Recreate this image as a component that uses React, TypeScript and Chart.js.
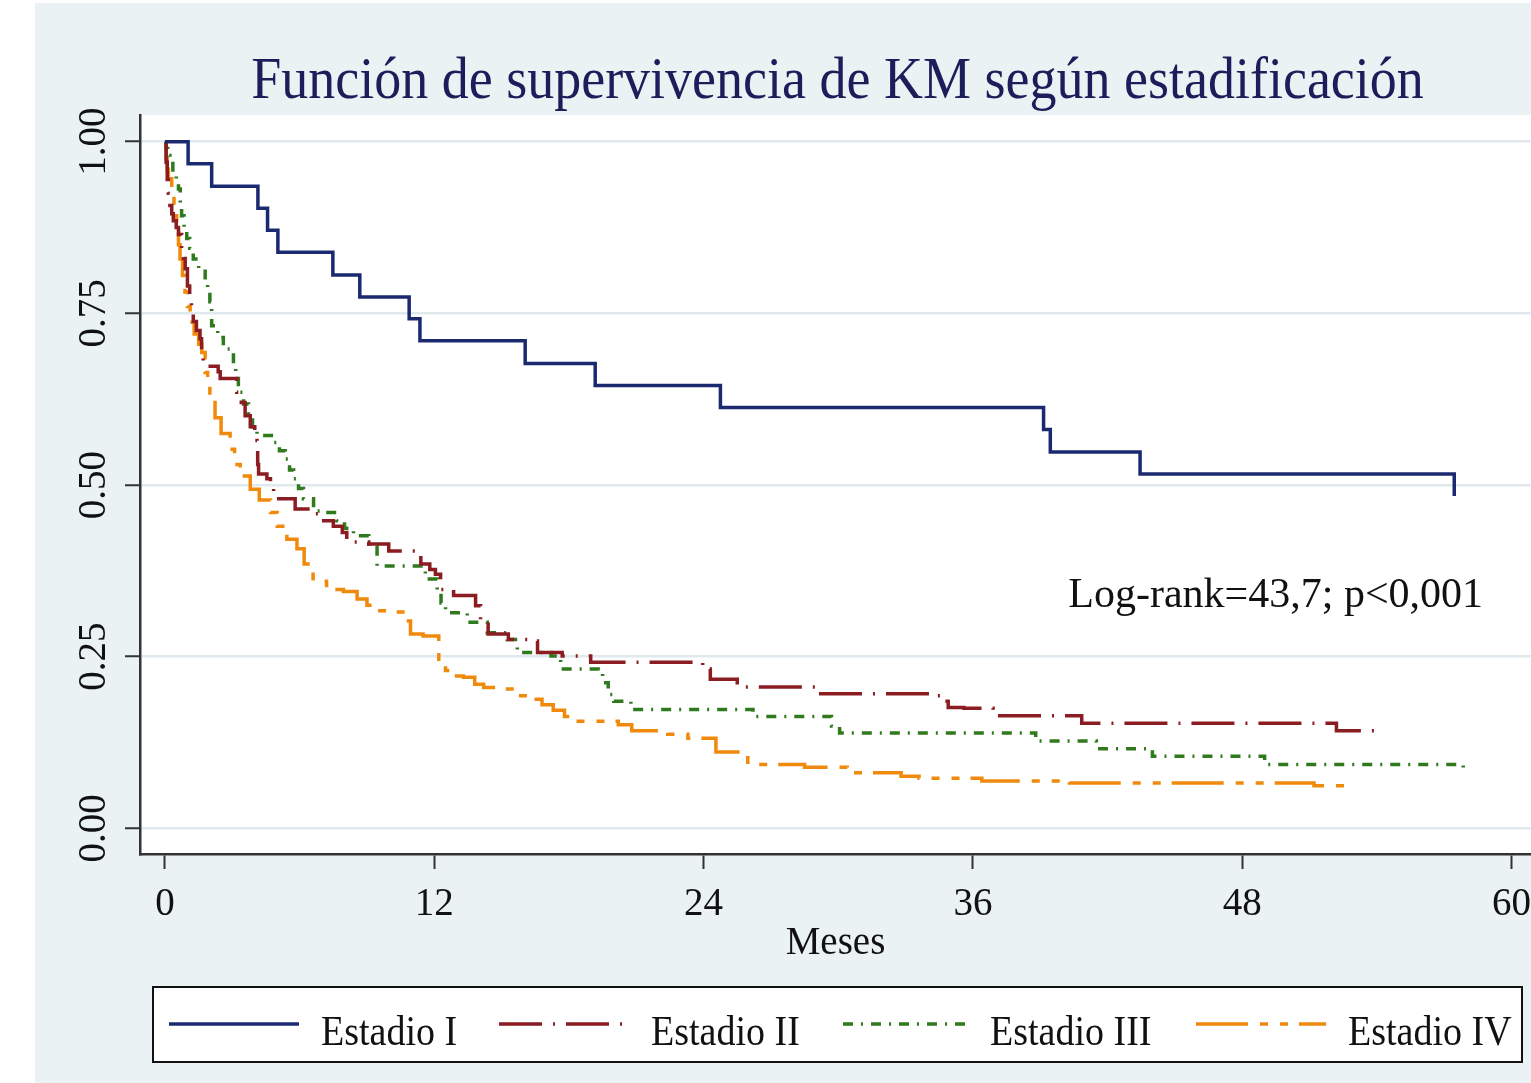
import { useEffect, useRef } from "react";
import { Chart, registerables } from "chart.js";

Chart.register(...registerables);

const SERIF = '"Liberation Serif", "Times New Roman", serif';

const chartTitle = "Función de supervivencia de KM según estadificación";
const xAxisTitle = "Meses";
const annotationText = "Log-rank=43,7; p<0,001";

const xTickValues = [0, 12, 24, 36, 48, 60];
const xTickLabels = ["0", "12", "24", "36", "48", "60"];
const yTickValues = [0, 0.25, 0.5, 0.75, 1];
const yTickLabels = ["0.00", "0.25", "0.50", "0.75", "1.00"];

const seriesNames = ["Estadio I", "Estadio II", "Estadio III", "Estadio IV"];

const stage1Months = [0, 1.03, 2.08, 4.14, 4.57, 5.03, 7.48, 8.68, 10.88, 11.36, 16.05, 19.17, 24.75, 39.15, 39.45, 43.45, 57.45];
const stage1Survival = [1, 0.968, 0.935, 0.903, 0.871, 0.839, 0.806, 0.774, 0.742, 0.71, 0.677, 0.645, 0.613, 0.581, 0.548, 0.516, 0.484];

const stage2Months = [0, 0.05, 0.1, 0.15, 0.22, 0.3, 0.37, 0.5, 0.6, 0.74, 0.82, 0.9, 1.0, 1.1, 1.18, 1.26, 1.4, 1.56, 1.63, 1.7, 2.37, 2.46, 3.2, 3.4, 3.57, 3.8, 4.0, 4.1, 4.13, 4.17, 4.54, 4.7, 4.84, 5.8, 6.47, 7.07, 7.5, 7.9, 8.1, 9.08, 9.97, 11.2, 11.4, 11.8, 12.05, 12.28, 12.86, 13.84, 14.06, 14.4, 15.3, 16.3, 16.6, 17.7, 18.97, 23.96, 24.3, 25.5, 29.1, 34.4, 34.6, 34.9, 35.6, 36.9, 40.85, 52.2, 54.0];
const stage2Survival = [1, 0.97, 0.945, 0.925, 0.907, 0.895, 0.885, 0.875, 0.865, 0.845, 0.83, 0.815, 0.79, 0.767, 0.752, 0.738, 0.725, 0.713, 0.69, 0.673, 0.665, 0.655, 0.635, 0.62, 0.601, 0.585, 0.565, 0.555, 0.53, 0.516, 0.509, 0.495, 0.48, 0.465, 0.458, 0.448, 0.44, 0.431, 0.417, 0.414, 0.404, 0.402, 0.385, 0.377, 0.37, 0.348, 0.339, 0.324, 0.302, 0.283, 0.275, 0.273, 0.256, 0.251, 0.242, 0.232, 0.217, 0.206, 0.196, 0.193, 0.185, 0.176, 0.175, 0.164, 0.153, 0.142, 0.142];

const stage3Months = [0, 0.05, 0.12, 0.22, 0.35, 0.5, 0.6, 0.68, 0.74, 0.85, 0.97, 1.1, 1.26, 1.5, 1.79, 1.9, 2.0, 2.08, 2.35, 2.6, 3.05, 3.15, 3.27, 3.5, 3.72, 3.9, 4.1, 4.84, 5.1, 5.36, 5.55, 5.73, 5.95, 6.17, 6.62, 7.07, 7.66, 8.0, 8.4, 9.08, 9.45, 11.5, 11.6, 12.13, 12.3, 12.5, 13.47, 14.36, 15.25, 15.7, 17.2, 17.63, 19.3, 19.5, 19.75, 20.0, 20.76, 26.2, 29.7, 30.06, 38.8, 41.5, 44.0, 49.0, 57.85];
const stage3Survival = [1, 0.99, 0.98, 0.971, 0.955, 0.94, 0.931, 0.91, 0.892, 0.875, 0.859, 0.845, 0.829, 0.815, 0.798, 0.78, 0.767, 0.732, 0.715, 0.698, 0.674, 0.655, 0.635, 0.618, 0.601, 0.585, 0.572, 0.562, 0.55, 0.538, 0.522, 0.509, 0.495, 0.48, 0.462, 0.46, 0.448, 0.437, 0.426, 0.411, 0.382, 0.378, 0.363, 0.343, 0.328, 0.314, 0.3, 0.285, 0.275, 0.256, 0.251, 0.232, 0.228, 0.212, 0.195, 0.185, 0.173, 0.163, 0.149, 0.139, 0.127, 0.116, 0.105, 0.093, 0.083];

const stage4Months = [0, 0.05, 0.1, 0.15, 0.3, 0.4, 0.52, 0.6, 0.67, 0.78, 0.89, 1.0, 1.12, 1.3, 1.5, 1.64, 1.79, 1.9, 2.0, 2.23, 2.5, 2.9, 3.1, 3.35, 3.8, 4.2, 4.7, 5.0, 5.43, 5.88, 6.2, 6.6, 7.2, 7.95, 8.56, 9.0, 9.45, 10.04, 10.6, 10.94, 11.5, 12.2, 12.5, 12.7, 13.3, 13.8, 14.2, 14.95, 15.7, 16.2, 16.8, 17.3, 17.8, 18.3, 20.2, 20.8, 22.4, 23.3, 24.55, 25.97, 28.5, 30.4, 32.8, 33.6, 36.4, 40.3, 51.2, 52.6];
const stage4Survival = [1, 0.975, 0.96, 0.946, 0.922, 0.895, 0.868, 0.85, 0.829, 0.805, 0.781, 0.76, 0.737, 0.72, 0.705, 0.693, 0.664, 0.645, 0.625, 0.598, 0.575, 0.552, 0.53, 0.513, 0.494, 0.478, 0.46, 0.44, 0.421, 0.407, 0.385, 0.36, 0.348, 0.345, 0.334, 0.325, 0.317, 0.315, 0.302, 0.283, 0.28, 0.242, 0.23, 0.222, 0.22, 0.21, 0.205, 0.203, 0.193, 0.188, 0.18, 0.172, 0.163, 0.156, 0.151, 0.142, 0.137, 0.131, 0.111, 0.093, 0.089, 0.081, 0.076, 0.073, 0.069, 0.066, 0.062, 0.062];

const seriesColors = ["#1b2a70", "#8a1c22", "#2f7a1c", "#f08a0c"];
const seriesDashes: number[][] = [[], [43, 11, 2, 11], [10, 8, 2, 8], [52, 12, 8, 12, 8, 11]];

const seriesMonths = [stage1Months, stage2Months, stage3Months, stage4Months];
const seriesSurvival = [stage1Survival, stage2Survival, stage3Survival, stage4Survival];

const backgroundPlugin = {
  id: "kmBackground",
  beforeDraw(chart: any) {
    const { ctx, width, height, chartArea } = chart;
    ctx.save();
    ctx.fillStyle = "#ffffff";
    ctx.fillRect(0, 0, width, height);
    ctx.fillStyle = "#eaf2f3";
    ctx.fillRect(35, 3, width - 35, height - 3);
    ctx.fillStyle = "#ffffff";
    ctx.fillRect(chartArea.left, chartArea.top, chartArea.right - chartArea.left, chartArea.bottom - chartArea.top);
    ctx.restore();
  },
};

function stretchedText(ctx: CanvasRenderingContext2D, text: string, x: number, y: number, sy: number) {
  ctx.save();
  ctx.translate(x, y);
  ctx.scale(1, sy);
  ctx.fillText(text, 0, 0);
  ctx.restore();
}

const textPlugin = {
  id: "kmTexts",
  afterDraw(chart: any) {
    const { ctx, chartArea, scales } = chart;
    ctx.save();
    // title
    ctx.fillStyle = "#1b1e5a";
    ctx.font = `54px ${SERIF}`;
    ctx.textAlign = "center";
    ctx.textBaseline = "alphabetic";
    stretchedText(ctx, chartTitle, (chartArea.left + chartArea.right) / 2 + 2, 98, 1.1);
    // annotation
    ctx.fillStyle = "#111111";
    ctx.font = `42px ${SERIF}`;
    ctx.textAlign = "left";
    stretchedText(ctx, annotationText, scales.x.getPixelForValue(40.25), scales.y.getPixelForValue(0.322), 1.0);
    // legend
    const boxL = 153, boxT = 987, boxR = 1522, boxB = 1062;
    ctx.fillStyle = "#ffffff";
    ctx.fillRect(boxL, boxT, boxR - boxL, boxB - boxT);
    ctx.strokeStyle = "#111111";
    ctx.lineWidth = 2;
    ctx.strokeRect(boxL, boxT, boxR - boxL, boxB - boxT);
    const lineStarts = [169, 499, 843, 1196];
    const textStarts = [321, 651, 990, 1348];
    const lineLen = 130;
    ctx.font = `38px ${SERIF}`;
    chart.data.datasets.forEach((ds: any, i: number) => {
      ctx.save();
      ctx.strokeStyle = ds.borderColor;
      ctx.lineWidth = 3.5;
      ctx.setLineDash(ds.borderDash || []);
      ctx.beginPath();
      ctx.moveTo(lineStarts[i], 1024);
      ctx.lineTo(lineStarts[i] + lineLen, 1024);
      ctx.stroke();
      ctx.restore();
      ctx.fillStyle = "#111111";
      ctx.textAlign = "left";
      ctx.textBaseline = "alphabetic";
      stretchedText(ctx, ds.label, textStarts[i], 1045, 1.12);
    });
    ctx.restore();
  },
};

export default function App() {
  const canvasRef = useRef<HTMLCanvasElement>(null);

  useEffect(() => {
    const canvas = canvasRef.current;
    if (!canvas) return;
    const datasets = seriesNames.map((name, i) => ({
      label: name,
      data: seriesMonths[i].map((m, j) => ({ x: m, y: seriesSurvival[i][j] })),
      borderColor: seriesColors[i],
      backgroundColor: seriesColors[i],
      borderWidth: 3.5,
      borderDash: seriesDashes[i],
      borderCapStyle: "butt",
      borderJoinStyle: "miter",
      stepped: "before",
      pointRadius: 0,
      pointHoverRadius: 0,
      fill: false,
      tension: 0,
    }));
    const tickFont = { family: SERIF, size: 39 };
    const chart = new Chart(canvas, {
      type: "line",
      data: { datasets } as any,
      options: {
        animation: false,
        responsive: false,
        maintainAspectRatio: false,
        events: [],
        layout: { padding: { top: 115, left: 0, right: 0, bottom: 0 } },
        plugins: {
          legend: { display: false },
          title: { display: false },
          tooltip: { enabled: false },
        },
        scales: {
          x: {
            type: "linear",
            min: -1.114,
            max: 60.87,
            afterBuildTicks: (s: any) => {
              s.ticks = xTickValues.map((v) => ({ value: v }));
            },
            afterFit: (s: any) => {
              s.height = 229;
              s.paddingLeft = 0;
              s.paddingRight = 0;
            },
            ticks: {
              font: tickFont,
              color: "#111111",
              padding: 12,
              autoSkip: false,
              minRotation: 0,
              maxRotation: 0,
              callback: (_v: any, i: number) => xTickLabels[i],
            },
            grid: {
              drawOnChartArea: false,
              drawTicks: true,
              tickLength: 15,
              tickColor: "#333333",
              tickWidth: 2,
            },
            border: { display: true, color: "#333333", width: 2.5 },
            title: {
              display: true,
              text: xAxisTitle,
              font: { family: SERIF, size: 39 },
              color: "#111111",
              padding: { top: 0, bottom: 116 },
            },
          },
          y: {
            type: "linear",
            min: -0.0374,
            max: 1.0389,
            afterBuildTicks: (s: any) => {
              s.ticks = yTickValues.map((v) => ({ value: v }));
            },
            afterFit: (s: any) => {
              s.width = 140;
              s.paddingTop = 0;
              s.paddingBottom = 0;
            },
            ticks: {
              font: tickFont,
              color: "#111111",
              padding: -4,
              autoSkip: false,
              minRotation: 90,
              maxRotation: 90,
              crossAlign: "center",
              callback: (_v: any, i: number) => yTickLabels[i],
            },
            grid: {
              color: "#e0eaee",
              lineWidth: 2.5,
              drawTicks: true,
              tickLength: 15,
              tickColor: "#333333",
              tickWidth: 2,
            },
            border: { display: true, color: "#333333", width: 2.5 },
          },
        },
      } as any,
      plugins: [backgroundPlugin, textPlugin],
    });
    return () => chart.destroy();
  }, []);

  return (
    <div style={{ position: "absolute", left: 0, top: 0, width: 1531, height: 1083, overflow: "hidden" }}>
      <canvas ref={canvasRef} width={1531} height={1083} style={{ display: "block", width: 1531, height: 1083 }} />
    </div>
  );
}
